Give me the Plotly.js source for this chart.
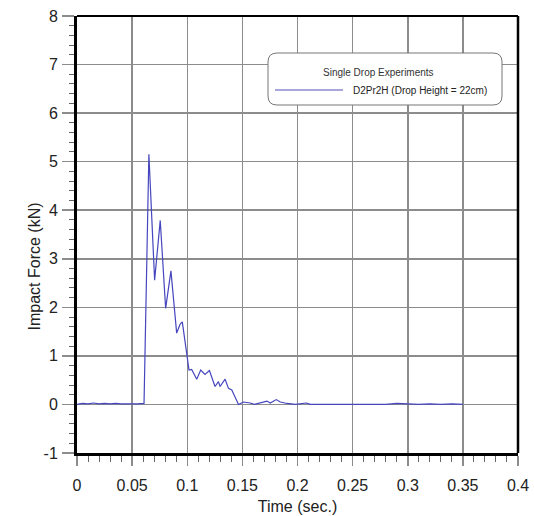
<!DOCTYPE html>
<html>
<head>
<meta charset="utf-8">
<script src="https://cdn.plot.ly/plotly-3.0.1.min.js"></script>
<style>html,body{margin:0;padding:0;background:#fff;}#chart{width:534px;height:516px;}</style>
</head>
<body>
<div id="chart"></div>
<script>
// Data
const timeSec = [0, 0.005, 0.01, 0.015, 0.02, 0.025, 0.03, 0.035, 0.04, 0.045, 0.05, 0.055, 0.0608,
  0.0652, 0.0704, 0.0755, 0.0804, 0.0852, 0.0904, 0.0935, 0.0955, 0.0975, 0.1016,
  0.104, 0.1086, 0.1122, 0.1161, 0.1201, 0.1252, 0.1283, 0.1298, 0.1343, 0.1374, 0.1404, 0.1465,
  0.151, 0.157, 0.161, 0.1677, 0.1723, 0.1753, 0.1807, 0.1844, 0.1905, 0.198, 0.208, 0.2117,
  0.22, 0.23, 0.24, 0.25, 0.26, 0.27, 0.28, 0.29, 0.30, 0.31, 0.32, 0.33, 0.34, 0.35];
const impactForce = [0, 0.02, 0.01, 0.03, 0.01, 0.02, 0.01, 0.02, 0.01, 0.01, 0.0, 0.01, 0.02,
  5.15, 2.56, 3.79, 1.98, 2.75, 1.47, 1.65, 1.70, 1.35, 0.71,
  0.72, 0.52, 0.71, 0.62, 0.70, 0.37, 0.47, 0.37, 0.52, 0.33, 0.30, 0.0,
  0.05, 0.03, 0.0, 0.05, 0.07, 0.03, 0.10, 0.05, 0.02, 0.0, 0.03, 0.0,
  0.0, 0.01, 0.0, 0.01, 0.0, 0.01, 0.0, 0.02, 0.01, 0.0, 0.01, 0.0, 0.01, 0.0];
const seriesName = 'D2Pr2H (Drop Height = 22cm)';
const legendTitle = 'Single Drop Experiments';
const xTickVals = [0, 0.05, 0.1, 0.15, 0.2, 0.25, 0.3, 0.35, 0.4];
const xTickText = ['0', '0.05', '0.1', '0.15', '0.2', '0.25', '0.3', '0.35', '0.4'];
const yTickVals = [-1, 0, 1, 2, 3, 4, 5, 6, 7, 8];
const yTickText = ['-1', '0', '1', '2', '3', '4', '5', '6', '7', '8'];

// layout helpers (pixel -> paper)
const L = 77, R = 518, T = 16, B = 453;
const px = v => (v - L) / (R - L);
const py = v => (B - v) / (B - T);

function roundRect(x0p, y0p, x1p, y1p, rpx) {
  const x0 = px(x0p), x1 = px(x1p), yt = py(y0p), yb = py(y1p);
  const rx = rpx / (R - L), ry = rpx / (B - T);
  return `M${x0+rx},${yt} L${x1-rx},${yt} Q${x1},${yt} ${x1},${yt-ry} L${x1},${yb+ry} Q${x1},${yb} ${x1-rx},${yb} ` +
         `L${x0+rx},${yb} Q${x0},${yb} ${x0},${yb+ry} L${x0},${yt-ry} Q${x0},${yt} ${x0+rx},${yt} Z`;
}

const lineColor = '#4646bf';
const font = 'Liberation Sans, Arial, sans-serif';

const trace = {
  x: timeSec, y: impactForce, type: 'scatter', mode: 'lines', name: seriesName,
  line: {color: lineColor, width: 1.2}, showlegend: false, hoverinfo: 'x+y'
};

const layout = {
  width: 534, height: 516,
  margin: {l: L, r: 534 - R, t: T, b: 516 - B},
  paper_bgcolor: '#fff', plot_bgcolor: '#fff',
  font: {family: font, size: 16, color: '#222'},
  showlegend: false,
  xaxis: {
    range: [0, 0.4], tickvals: xTickVals, ticktext: xTickText,
    showgrid: true, gridcolor: '#8c8c8c', gridwidth: 1.5, zeroline: false,
    showline: true, linecolor: '#000', linewidth: 3, mirror: false,
    ticks: 'outside', ticklen: 10, tickwidth: 1.5, tickcolor: '#8c8c8c',
    ticklabelstandoff: 6,
    minor: {dtick: 0.01, ticks: 'outside', ticklen: 6, tickwidth: 1, tickcolor: '#666', showgrid: false},
    tickfont: {family: font, size: 16, color: '#222'},
    title: {text: 'Time (sec.)', font: {family: font, size: 16, color: '#222'}, standoff: 8}
  },
  yaxis: {
    range: [-1, 8], tickvals: yTickVals, ticktext: yTickText,
    showgrid: true, gridcolor: '#8c8c8c', gridwidth: 1.5, zeroline: false,
    showline: true, linecolor: '#000', linewidth: 3, mirror: false,
    ticks: 'outside', ticklen: 12, tickwidth: 1.5, tickcolor: '#8c8c8c',
    ticklabelstandoff: 1,
    minor: {dtick: 0.2, ticks: 'outside', ticklen: 5, tickwidth: 1, tickcolor: '#666', showgrid: false},
    tickfont: {family: font, size: 16, color: '#222'}
  },
  shapes: [
    {type: 'line', xref: 'paper', yref: 'paper', x0: 0, x1: 1, y0: 1, y1: 1, line: {color: '#000', width: 2}},
    {type: 'line', xref: 'paper', yref: 'paper', x0: 1, x1: 1, y0: 0, y1: 1, line: {color: '#000', width: 2.5}},
    {type: 'path', xref: 'paper', yref: 'paper', path: roundRect(268, 53, 502, 105, 9),
     fillcolor: '#fff', line: {color: '#777', width: 1}, layer: 'above'},
    {type: 'line', xref: 'paper', yref: 'paper', x0: px(275), x1: px(343), y0: py(90), y1: py(90),
     line: {color: '#8a8ad0', width: 1.5}, layer: 'above'}
  ],
  annotations: [
    {text: 'Impact Force (kN)', xref: 'paper', yref: 'paper', x: px(33.5), y: py(267), textangle: -90,
     showarrow: false, xanchor: 'center', yanchor: 'middle', font: {family: font, size: 16, color: '#222'}},
    {text: legendTitle, xref: 'paper', yref: 'paper', x: px(378), y: py(72), showarrow: false,
     xanchor: 'center', yanchor: 'middle', font: {family: font, size: 10, color: '#333'}},
    {text: seriesName, xref: 'paper', yref: 'paper', x: px(351), y: py(90), showarrow: false,
     xanchor: 'left', yanchor: 'middle', font: {family: font, size: 10, color: '#222'}}
  ]
};

Plotly.newPlot('chart', [trace], layout, {staticPlot: true, displayModeBar: false});
</script>
</body>
</html>
